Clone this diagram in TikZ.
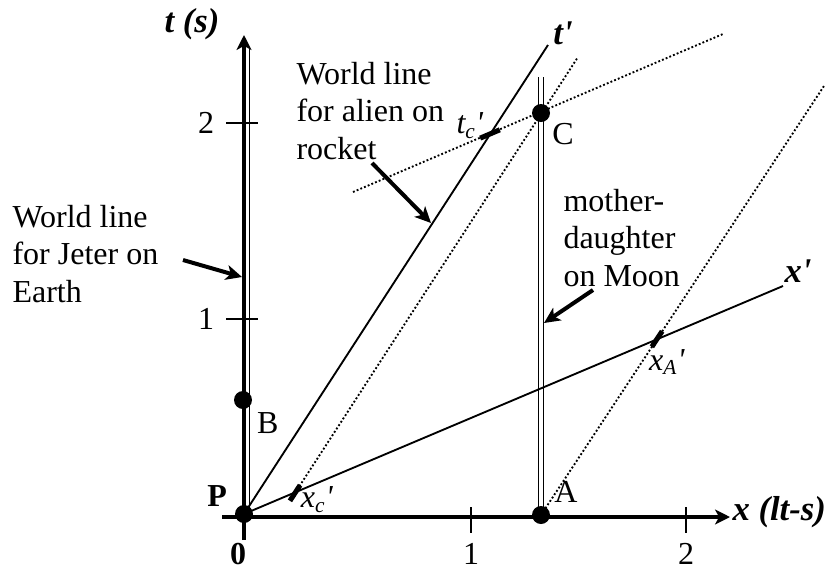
\documentclass[tikz,border=0pt]{standalone}
\usepackage{fontspec}
\setmainfont{Liberation Serif}
\usetikzlibrary{arrows.meta, positioning, calc}

\begin{document}
\begin{tikzpicture}[
      x=0.375pt, y=-0.375pt,
      every node/.style={inner sep=0pt, font=\fontsize{12}{13.9}\selectfont},
      axis/.style={-{Stealth[length=5.6pt, width=5.6pt, inset=1.5pt]}, line width=1.3pt},
      wline/.style={line width=0.7pt},
      tickmark/.style={line width=0.75pt},
      guide/.style={line width=0.7pt, dash pattern=on 0.7pt off 0.8pt},
      stub/.style={line width=1.9pt},
      arr/.style={-{Stealth[length=6pt, width=5.6pt, inset=1.6pt]}, line width=1.5pt},
      dot/.style={circle, fill, minimum size=6.75pt},
      axlabel/.style={font=\fontsize{13}{15}\selectfont\bfseries\itshape}
   ]
      \useasboundingbox (0,0) rectangle (830,569);
      \coordinate (o) at (244,514);
      \coordinate (b) at (243,400);
      \coordinate (c) at (541,113);
      \coordinate (a) at (541,515);
      \coordinate (t-foot) at (244,540);
      \coordinate (t-tip) at (244,35);
      \coordinate (x-foot) at (222,517);
      \coordinate (x-tip) at (730,517);
      \coordinate (tp-top) at (548,45);
      \coordinate (xp-top) at (783,286);
      \coordinate (jeter-top) at (249.5,47);
      \coordinate (jeter-foot) at (249.5,514);
      \coordinate (moon-top) at (541,77);
      \coordinate (g1-a) at (353,192);
      \coordinate (g1-b) at (723,34);
      \coordinate (g2-b) at (578,57);
      \coordinate (g3-b) at (824,86);
      \coordinate (tc) at (490,134);
      \coordinate (xc) at (295,493);
      \coordinate (xA) at (657,339);

      % world lines and axes
      \draw[wline, double, double distance=1.2pt] (a) -- (moon-top);
      \draw[wline] (jeter-foot) -- (jeter-top);
      \draw[axis] (t-foot) -- (t-tip);
      \draw[axis] (x-foot) -- (x-tip);
      \draw[wline] (o) -- (tp-top);
      \draw[wline] (o) -- (xp-top);
      \foreach \y/\v in {319/1, 123/2} {
         \draw[tickmark] (226,\y) -- (258,\y);
         \node (t\v) at (206,\y) {\v};
      }
      \foreach \x/\v in {471/1, 686/2} {
         \draw[tickmark] (\x,507) -- (\x,533);
         \node (x\v) at (\x,554) {\v};
      }
      \node (x0) at (238,554) {\textbf{0}};

      % simultaneity and position guides
      \draw[guide] (g1-a) -- (g1-b);
      \draw[guide] (xc) -- (g2-b);
      \draw[guide] (a) -- (g3-b);
      \draw[stub] ($(tc)!4pt!(g1-a)$) -- ($(tc)!4pt!(g1-b)$);
      \draw[stub] ($(xc)!3.5pt!(g2-b)$) -- ($(xc)!-3.5pt!(g2-b)$);
      \draw[stub] ($(xA)!3.5pt!(g3-b)$) -- ($(xA)!-3.5pt!(g3-b)$);
      \node (tc-lbl) at (470,126) {\textit{t\textsubscript{c}\textquotesingle}};
      \node (xc-lbl) at (317,500) {\textit{x\textsubscript{c}\textquotesingle}};
      \node (xA-lbl) at (667,362) {\textit{x\textsubscript{A}\textquotesingle}};

      \node[axlabel] (t-lbl) at (192,24) {t (s)};
      \node[axlabel, anchor=west] (x-lbl) at (732,512) {x (lt-s)};
      \node[axlabel] (tp-lbl) at (563,33) {t\textquotesingle};
      \node[axlabel] (xp-lbl) at (798,271) {x\textquotesingle};

      % events
      \node[dot] (P) at (o) {};
      \node[dot] (B) at (b) {};
      \node[dot] (C) at (c) {};
      \node[dot] (A) at (a) {};
      \node (P-lbl) [above left=0pt and 3.7pt of P] {\textbf{P}};
      \node (B-lbl) [below right=1.9pt and 2.6pt of B] {B};
      \node (C-lbl) [below right=1.2pt and 1.5pt of C] {C};
      \node (A-lbl) [above right=1.9pt and 2.3pt of A] {A};

      % callouts
      \node[align=left, anchor=west] (jeter) at (12,254) {World line\\for Jeter on\\Earth};
      \node[align=left, anchor=west] (alien) at (296,111) {World line\\for alien on\\rocket};
      \node[align=left, anchor=west] (moon) at (563,238) {mother-\\daughter\\on Moon};
      \coordinate (jeter-from) at (183,260);
      \coordinate (jeter-to) at (242,277);
      \coordinate (alien-from) at (372,163);
      \coordinate (alien-to) at (431,223);
      \coordinate (moon-from) at (593,290);
      \coordinate (moon-to) at (544,323);
      \draw[arr] (jeter-from) -- (jeter-to);
      \draw[arr] (alien-from) -- (alien-to);
      \draw[arr] (moon-from) -- (moon-to);
   \end{tikzpicture}
\end{document}
